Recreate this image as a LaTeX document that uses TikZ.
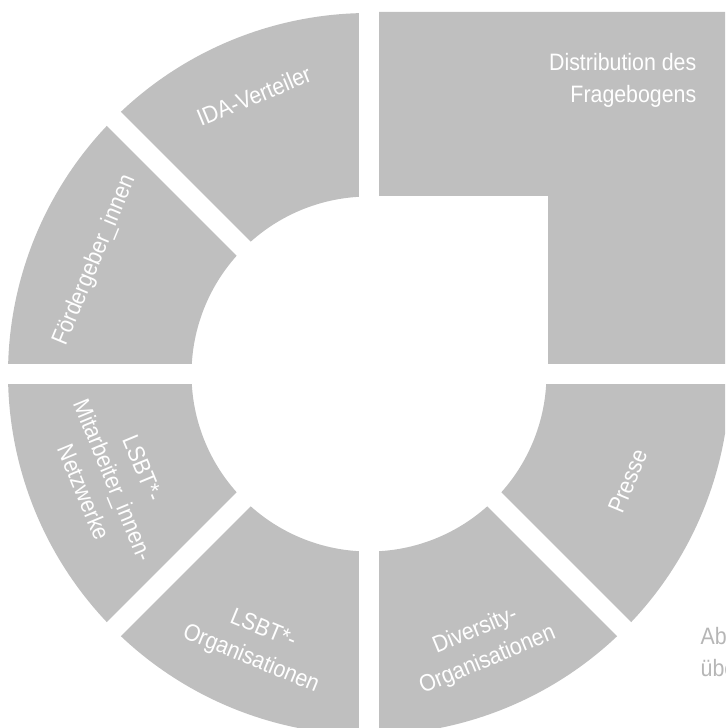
\documentclass[tikz,border=0pt]{standalone}
\usepackage{fontspec}
\newfontfamily\ringfont[FakeStretch=0.9]{Liberation Sans}
\definecolor{ringgray}{RGB}{191,191,191}
\definecolor{capgray}{RGB}{182,182,182}
\begin{document}
\begin{tikzpicture}[
    seg/.style={fill=ringgray},
    lbl/.style={text=white, inner sep=0pt, align=center,
      font={\ringfont\fontsize{6.75}{9.1}\selectfont}},
  ]

  % page frame
  \clip (-3.69,-3.54) rectangle (3.56,3.74);

  % Square with notch
  \fill[seg] (1.79,0.1) -- (3.7,0.1) -- (3.7,3.62) -- (0.1,3.62)
    -- (0.1,1.78) -- (1.79,1.78) -- cycle;
  % Ring parts
  \fill[seg] (91.59:3.61) arc[start angle=91.59, end angle=133.41, radius=3.61]
    -- (131.76:1.775) arc[start angle=131.76, end angle=93.24, radius=1.775] -- cycle;
  \fill[seg] (136.59:3.61) arc[start angle=136.59, end angle=178.41, radius=3.61]
    -- (176.76:1.775) arc[start angle=176.76, end angle=138.24, radius=1.775] -- cycle;
  \fill[seg] (181.59:3.61) arc[start angle=181.59, end angle=223.41, radius=3.61]
    -- (221.76:1.775) arc[start angle=221.76, end angle=183.24, radius=1.775] -- cycle;
  \fill[seg] (226.59:3.61) arc[start angle=226.59, end angle=268.41, radius=3.61]
    -- (266.76:1.775) arc[start angle=266.76, end angle=228.24, radius=1.775] -- cycle;
  \fill[seg] (271.59:3.61) arc[start angle=271.59, end angle=313.41, radius=3.61]
    -- (311.76:1.775) arc[start angle=311.76, end angle=273.24, radius=1.775] -- cycle;
  \fill[seg] (316.59:3.61) arc[start angle=316.59, end angle=358.41, radius=3.61]
    -- (356.76:1.775) arc[start angle=356.76, end angle=318.24, radius=1.775] -- cycle;

  % Labels
  \node[lbl, align=right, anchor=north east] (distribution) at (3.28,3.21)
    {Distribution des\\Fragebogens};
  \node[lbl, rotate=22.5] (ida) at (112.5:3.01) {IDA-Verteiler};
  \node[lbl, rotate=67.5] (foerder) at (157.5:2.97) {Fördergeber\_innen};
  \node[lbl, rotate=-67.5] (lsbtnetz) at (202.5:2.77)
    {LSBT*-\\Mitarbeiter\_innen-\\Netzwerke};
  \node[lbl, rotate=-22.5] (lsbtorg) at (247.5:2.93) {LSBT*-\\Organisationen};
  \node[lbl, rotate=22.5] (diversity) at (292.5:2.94) {Diversity-\\Organisationen};
  \node[lbl, rotate=67.5] (presse) at (337.5:2.80) {Presse};

  % cut caption
  \node[lbl, text=capgray, align=left, anchor=north west] (caption) at (3.31,-2.53)
    {Ab\\übe};

\end{tikzpicture}
\end{document}
